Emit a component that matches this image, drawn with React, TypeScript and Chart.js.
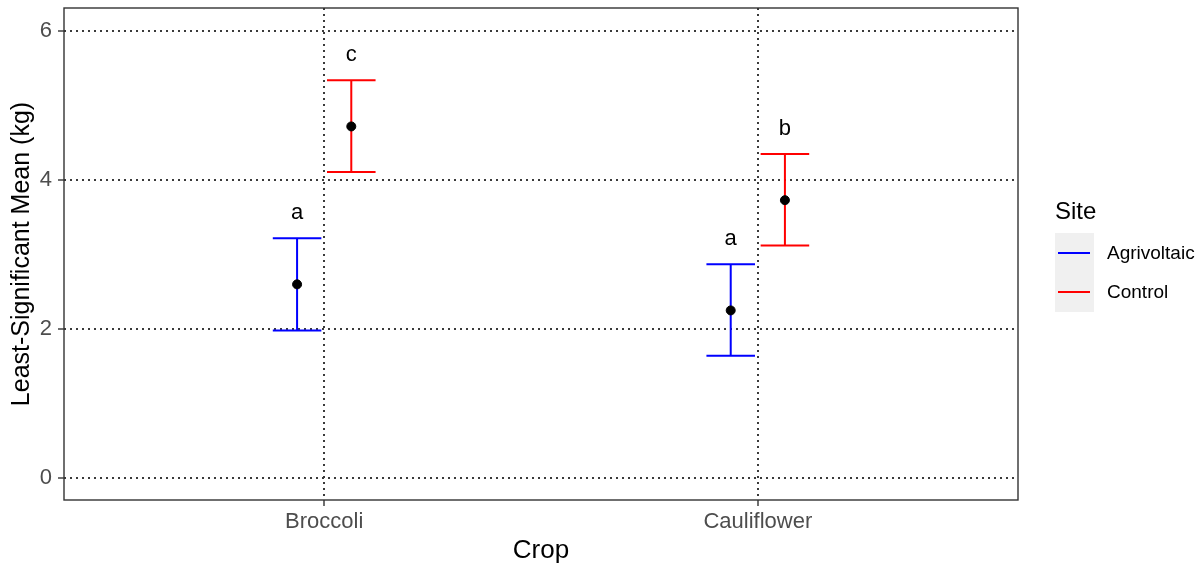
import React, { useEffect, useRef } from "react";
import { Chart, registerables } from "chart.js";

Chart.register(...registerables);

const crops = ["Broccoli", "Cauliflower"];
const sites = ["Agrivoltaic", "Control"];
const siteColors = ["#0000FF", "#FF0000"];
const agriMean = [2.6, 2.25];
const agriLower = [1.98, 1.64];
const agriUpper = [3.22, 2.87];
const ctrlMean = [4.72, 3.73];
const ctrlLower = [4.11, 3.12];
const ctrlUpper = [5.34, 4.35];
const agriLetters = ["a", "a"];
const ctrlLetters = ["c", "b"];
const yTicks = [0, 2, 4, 6];

const DODGE = 0.0625;
const CAP = 0.056;
const LETTER_OFFSET = 0.34;
const FONT = "'Liberation Sans', Arial, sans-serif";

const groups = [
  { mean: agriMean, lower: agriLower, upper: agriUpper, letters: agriLetters, shift: -DODGE, color: siteColors[0] },
  { mean: ctrlMean, lower: ctrlLower, upper: ctrlUpper, letters: ctrlLetters, shift: DODGE, color: siteColors[1] },
];

const overlayPlugin = {
  id: "overlay",
  beforeDatasetsDraw(chart: any) {
    const { ctx, scales } = chart;
    const xs = scales.x, ys = scales.y;
    ctx.save();
    ctx.lineWidth = 2;
    groups.forEach((g) => {
      g.mean.forEach((_, i) => {
        const xc = i + 1 + g.shift;
        const px = xs.getPixelForValue(xc);
        const pl = xs.getPixelForValue(xc - CAP);
        const pr = xs.getPixelForValue(xc + CAP);
        const pu = ys.getPixelForValue(g.upper[i]);
        const pd = ys.getPixelForValue(g.lower[i]);
        ctx.strokeStyle = g.color;
        ctx.beginPath();
        ctx.moveTo(px, pu); ctx.lineTo(px, pd);
        ctx.moveTo(pl, pu); ctx.lineTo(pr, pu);
        ctx.moveTo(pl, pd); ctx.lineTo(pr, pd);
        ctx.stroke();
      });
    });
    ctx.restore();
  },
  afterDraw(chart: any) {
    const { ctx, scales, chartArea } = chart;
    const xs = scales.x, ys = scales.y;
    ctx.save();
    // letters
    ctx.fillStyle = "#000";
    ctx.font = `22px ${FONT}`;
    ctx.textAlign = "center";
    ctx.textBaseline = "middle";
    groups.forEach((g) => {
      g.mean.forEach((_, i) => {
        ctx.fillText(
          g.letters[i],
          xs.getPixelForValue(i + 1 + g.shift),
          ys.getPixelForValue(g.upper[i] + LETTER_OFFSET)
        );
      });
    });
    // panel border
    ctx.strokeStyle = "#333";
    ctx.lineWidth = 1.4;
    ctx.strokeRect(chartArea.left, chartArea.top, chartArea.right - chartArea.left, chartArea.bottom - chartArea.top);
    // legend
    const lx = chartArea.right + 37;
    ctx.textAlign = "left";
    ctx.fillStyle = "#000";
    ctx.font = `24px ${FONT}`;
    ctx.fillText("Site", lx, 212);
    ctx.fillStyle = "#F0F0F0";
    ctx.fillRect(lx, 233, 39, 79);
    sites.forEach((s, i) => {
      const y = 253 + i * 39;
      ctx.strokeStyle = siteColors[i];
      ctx.lineWidth = 2;
      ctx.beginPath();
      ctx.moveTo(lx + 3, y);
      ctx.lineTo(lx + 35, y);
      ctx.stroke();
      ctx.fillStyle = "#000";
      ctx.font = `19px ${FONT}`;
      ctx.fillText(s, lx + 52, y + 1);
    });
    ctx.restore();
  },
};

export default function App() {
  const ref = useRef<HTMLCanvasElement>(null);
  useEffect(() => {
    document.body.style.margin = "0";
    const chart = new Chart(ref.current!, {
      type: "scatter",
      data: {
        datasets: groups.map((g, gi) => ({
          label: sites[gi],
          data: g.mean.map((m, i) => ({ x: i + 1 + g.shift, y: m })),
          backgroundColor: "#000",
          borderColor: "#000",
          pointRadius: 4.5,
          pointHoverRadius: 4.5,
        })),
      },
      options: {
        animation: false,
        responsive: false,
        maintainAspectRatio: false,
        layout: { padding: { left: 0, right: 183, top: 8, bottom: 0 } },
        plugins: { legend: { display: false }, tooltip: { enabled: false } },
        scales: {
          x: {
            type: "linear",
            min: 0.4,
            max: 2.6,
            afterBuildTicks: (s: any) => { s.ticks = crops.map((_, i) => ({ value: i + 1 })); },
            afterFit: (s: any) => { s.height = 69; s.paddingLeft = 0; s.paddingRight = 0; },
            ticks: {
              callback: (v: any) => crops[Math.round(v) - 1] ?? "",
              color: "#4D4D4D",
              font: { family: FONT, size: 22 },
              padding: 3,
              maxRotation: 0,
            },
            grid: { color: "#3A3A3A", lineWidth: 2, tickLength: 6, tickColor: "#333", tickWidth: 1.4 },
            border: { display: false, dash: [2, 4] },
            title: { display: true, text: "Crop", color: "#000", font: { family: FONT, size: 26 }, padding: { top: 0, bottom: 3 } },
          },
          y: {
            min: -0.295,
            max: 6.31,
            afterBuildTicks: (s: any) => { s.ticks = yTicks.map((v) => ({ value: v })); },
            afterFit: (s: any) => { s.width = 64; s.paddingTop = 0; s.paddingBottom = 0; },
            ticks: {
              color: "#4D4D4D",
              font: { family: FONT, size: 22 },
              padding: 6,
            },
            grid: { color: "#3A3A3A", lineWidth: 2, tickLength: 6, tickColor: "#333", tickWidth: 1.4 },
            border: { display: false, dash: [2, 4] },
            title: { display: true, text: "Least-Significant Mean (kg)", color: "#000", font: { family: FONT, size: 25 }, padding: { top: 7, bottom: 0 } },
          },
        },
      },
      plugins: [overlayPlugin],
    });
    return () => chart.destroy();
  }, []);
  return (
    <div style={{ width: 1201, height: 569, background: "#fff" }}>
      <canvas ref={ref} width={1201} height={569} style={{ display: "block" }} />
    </div>
  );
}
